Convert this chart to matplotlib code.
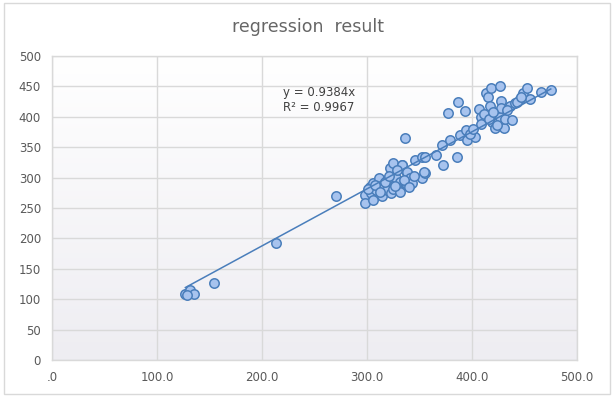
import numpy as np
import matplotlib.pyplot as plt
from matplotlib.patches import Rectangle
from matplotlib.colors import LinearSegmentedColormap

x_vals = [127, 130, 131, 135, 129, 154, 213, 270,
          298, 298, 303, 304, 306, 306, 309, 311, 314, 316, 319, 319, 322, 323, 325, 325,
          328, 331, 331, 333, 333, 336, 338, 338, 338, 341, 343, 346, 352, 352, 355, 355,
          336, 354, 366, 371, 372, 377, 379, 386, 387, 389, 393, 394, 395, 403,
          407, 409, 409, 413, 415, 417, 418, 419, 422, 425, 427, 427, 428, 428, 430,
          431, 436, 438, 441, 446, 449, 452, 455, 466, 475,
          301, 308, 312, 317, 321, 327, 329, 335, 340, 345,
          398, 401, 411, 416, 420, 424, 433, 443, 447]
y_vals = [109, 112, 115, 109, 107, 127, 192, 270,
          271, 259, 285, 274, 291, 263, 280, 299, 269, 288, 280, 296, 315, 274, 324, 282,
          299, 293, 277, 321, 321, 291, 307, 288, 310, 299, 291, 329, 334, 299, 334, 307,
          365, 310, 337, 354, 321, 406, 362, 334, 425, 370, 410, 378, 362, 366,
          413, 399, 388, 439, 433, 417, 448, 392, 381, 392, 400, 451, 426, 414, 382,
          397, 418, 395, 422, 430, 439, 447, 429, 441, 444,
          282, 288, 276, 292, 303, 286, 312, 296, 284, 302,
          372, 380, 405, 396, 408, 386, 412, 424, 432]

slope = 0.9384
r_squared = 0.9967

title = "regression  result"
x_ticks = [0, 100, 200, 300, 400, 500]
x_tick_labels = [".0", "100.0", "200.0", "300.0", "400.0", "500.0"]
y_ticks = list(range(0, 501, 50))

plt.rcParams['font.family'] = ['DejaVu Sans']

fig = plt.figure(figsize=(6.15, 3.98), dpi=100)
fig.patch.set_facecolor('white')
fig.patches.append(Rectangle((4 / 615, 1 - 394 / 398), 606 / 615, 391 / 398,
                             transform=fig.transFigure, fill=False,
                             edgecolor='#d9d9d9', linewidth=1.0))

ax = fig.add_axes([52 / 615, 1 - 360 / 398, 525 / 615, 304 / 398])

# subtle vertical gradient in the plot area
grad = np.linspace(0, 1, 256).reshape(-1, 1)
bg = LinearSegmentedColormap.from_list('bg', ['#ffffff', '#eeedf2'])
ax.imshow(grad, extent=[0, 500, 0, 500], aspect='auto', origin='upper',
          cmap=bg, zorder=0)

ax.set_xlim(0, 500)
ax.set_ylim(0, 500)
ax.set_xticks(x_ticks)
ax.set_xticklabels(x_tick_labels)
ax.set_yticks(y_ticks)
ax.grid(True, color='#d9d9d9', linewidth=1.0, zorder=1)
ax.set_axisbelow(True)
for s in ax.spines.values():
    s.set_color('#d9d9d9')
    s.set_linewidth(1.0)
ax.tick_params(length=0, colors='#595959', labelsize=8.5, pad=8)

ax.scatter(x_vals, y_vals, s=46, facecolor='#a7c3ee', edgecolor='#4a7ebb',
           linewidth=1.1, zorder=3)

lx = np.array([min(x_vals), max(x_vals)])
ax.plot(lx, slope * lx, color='#4a7ebb', linewidth=1.1, zorder=4)

ax.text(220, 428, f"y = {slope:.4f}x\nR² = {r_squared:.4f}", fontsize=8.5,
        color='#404040', ha='left', va='center', linespacing=1.2, zorder=5)

fig.text(0.5, 1 - 27 / 398, title, ha='center', va='center', fontsize=12.5,
         color='#666666')

fig.savefig('out.png', dpi=100)
